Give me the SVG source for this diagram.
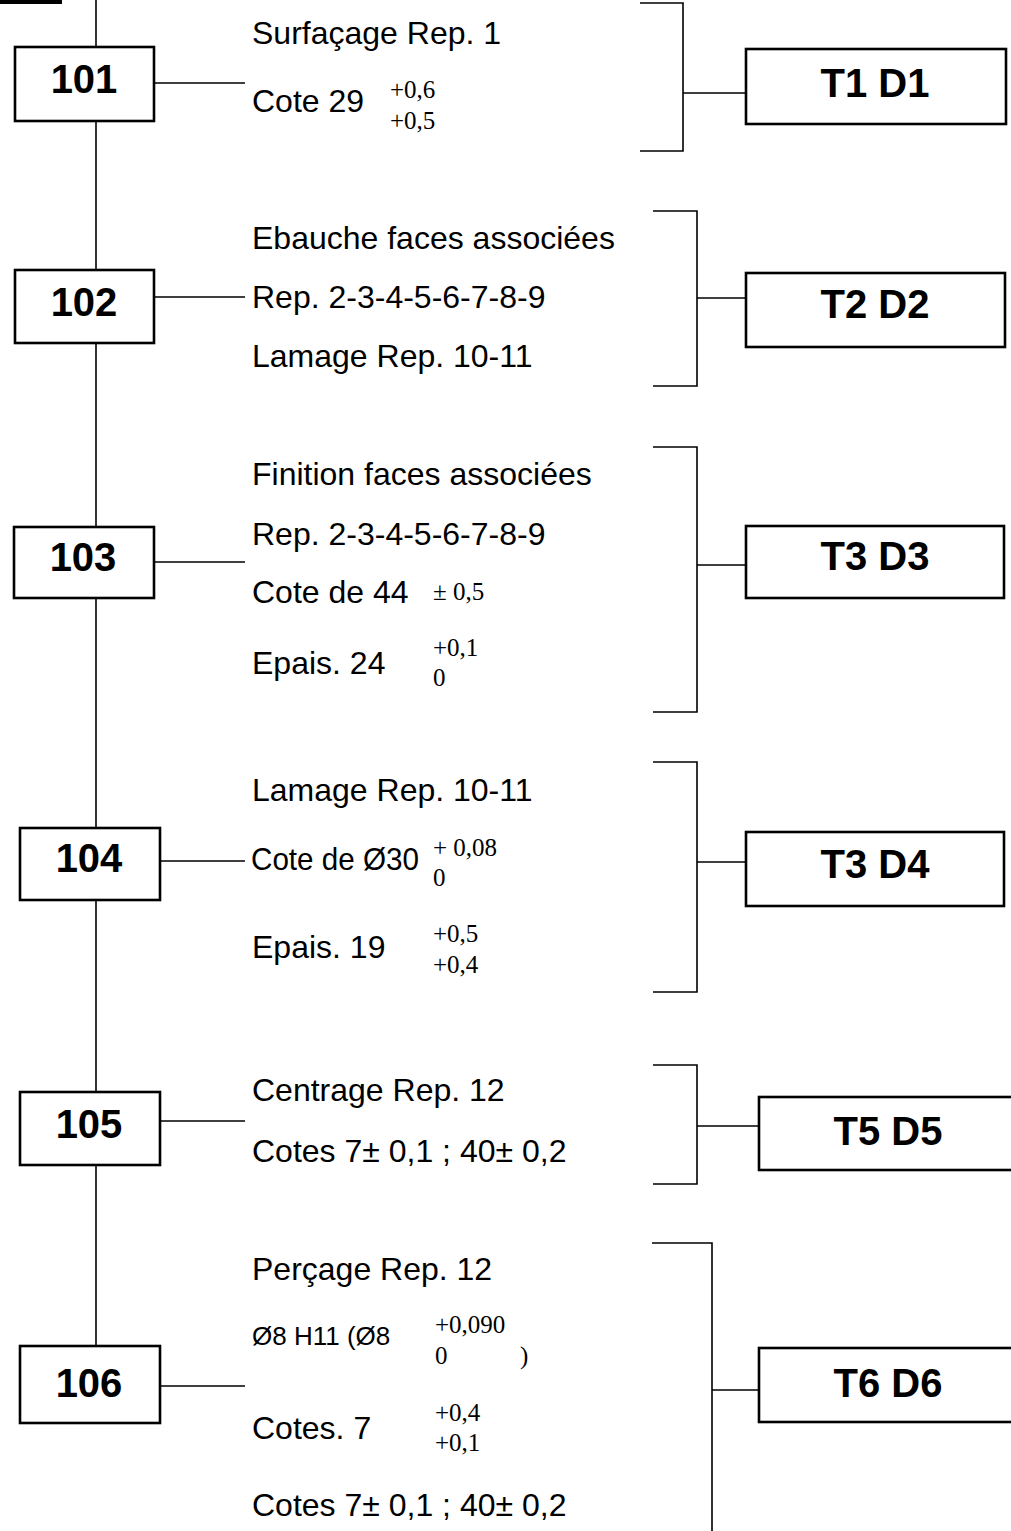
<svg xmlns="http://www.w3.org/2000/svg" width="1011" height="1531" viewBox="0 0 1011 1531">
<style>
.box{fill:#fff;stroke:#000;stroke-width:2.6}
.ln{fill:none;stroke:#000;stroke-width:1.6}
.lbl{font-family:"Liberation Sans",Arial,sans-serif;font-weight:bold;font-size:40px;text-anchor:middle;fill:#000}
.t{font-family:"Liberation Sans",Arial,sans-serif;font-size:32px;fill:#000}
.s{font-family:"Liberation Sans",Arial,sans-serif;font-size:26px;fill:#000}
.tol{font-family:"Liberation Serif","Times New Roman",serif;font-size:25px;fill:#000}
</style>
<rect x="0" y="0" width="62" height="4" fill="#000"/>
<g id="connectors">
<path class="ln" d="M96 0 V1346"/>
<path class="ln" d="M154 83 H245 M154 297 H245 M154 562 H245 M160 861 H245 M160 1121 H245 M160 1386 H245"/>
<path class="ln" d="M640 3 H683 V151 H640 M683 93 H746"/>
<path class="ln" d="M653 211 H697 V386 H653 M697 298 H746"/>
<path class="ln" d="M653 447 H697 V712 H653 M697 565 H746"/>
<path class="ln" d="M653 762 H697 V992 H653 M697 862 H746"/>
<path class="ln" d="M653 1065 H697 V1184 H653 M697 1126 H759"/>
<path class="ln" d="M652 1243 H712 V1531 M712 1390 H759"/>
</g>
<g id="n101"><rect class="box" x="15" y="47" width="139" height="74"/><text class="lbl" x="84" y="93">101</text></g>
<g id="n102"><rect class="box" x="15" y="270" width="139" height="73"/><text class="lbl" x="84" y="316">102</text></g>
<g id="n103"><rect class="box" x="14" y="527" width="140" height="71"/><text class="lbl" x="83" y="571">103</text></g>
<g id="n104"><rect class="box" x="20" y="828" width="140" height="72"/><text class="lbl" x="89" y="872">104</text></g>
<g id="n105"><rect class="box" x="20" y="1092" width="140" height="73"/><text class="lbl" x="89" y="1138">105</text></g>
<g id="n106"><rect class="box" x="20" y="1346" width="140" height="77"/><text class="lbl" x="89" y="1397">106</text></g>
<g id="t1"><rect class="box" x="746" y="49" width="260" height="75"/><text class="lbl" x="875" y="97">T1 D1</text></g>
<g id="t2"><rect class="box" x="746" y="273" width="259" height="74"/><text class="lbl" x="875" y="318">T2 D2</text></g>
<g id="t3"><rect class="box" x="746" y="526" width="258" height="72"/><text class="lbl" x="875" y="570">T3 D3</text></g>
<g id="t4"><rect class="box" x="746" y="832" width="258" height="74"/><text class="lbl" x="875" y="878">T3 D4</text></g>
<g id="t5"><rect class="box" x="759" y="1097" width="262" height="73"/><text class="lbl" x="888" y="1145">T5 D5</text></g>
<g id="t6"><rect class="box" x="759" y="1348" width="262" height="74"/><text class="lbl" x="888" y="1397">T6 D6</text></g>
<g id="txt101">
<text class="t" x="252" y="44">Surfaçage Rep. 1</text>
<text class="t" x="252" y="112">Cote 29</text>
<text class="tol" x="390" y="98">+0,6</text>
<text class="tol" x="390" y="129">+0,5</text>
</g>
<g id="txt102">
<text class="t" x="252" y="249">Ebauche faces associées</text>
<text class="t" x="252" y="308">Rep. 2-3-4-5-6-7-8-9</text>
<text class="t" x="252" y="367">Lamage Rep. 10-11</text>
</g>
<g id="txt103">
<text class="t" x="252" y="485">Finition faces associées</text>
<text class="t" x="252" y="545">Rep. 2-3-4-5-6-7-8-9</text>
<text class="t" x="252" y="603">Cote de 44</text>
<text class="tol" x="433" y="600">± 0,5</text>
<text class="t" x="252" y="674">Epais. 24</text>
<text class="tol" x="433" y="656">+0,1</text>
<text class="tol" x="433" y="686">0</text>
</g>
<g id="txt104">
<text class="t" x="252" y="801">Lamage Rep. 10-11</text>
<text class="t" x="251" y="870" textLength="168" lengthAdjust="spacingAndGlyphs">Cote de Ø30</text>
<text class="tol" x="433" y="856">+ 0,08</text>
<text class="tol" x="433" y="886">0</text>
<text class="t" x="252" y="958">Epais. 19</text>
<text class="tol" x="433" y="942">+0,5</text>
<text class="tol" x="433" y="973">+0,4</text>
</g>
<g id="txt105">
<text class="t" x="252" y="1101">Centrage Rep. 12</text>
<text class="t" x="252" y="1162">Cotes 7± 0,1 ; 40± 0,2</text>
</g>
<g id="txt106">
<text class="t" x="252" y="1280">Perçage Rep. 12</text>
<text class="s" x="252" y="1345">Ø8 H11 (Ø8</text>
<text class="tol" x="435" y="1333">+0,090</text>
<text class="tol" x="435" y="1364">0</text>
<text class="tol" x="520" y="1364">)</text>
<text class="t" x="252" y="1439">Cotes. 7</text>
<text class="tol" x="435" y="1421">+0,4</text>
<text class="tol" x="435" y="1451">+0,1</text>
<text class="t" x="252" y="1516">Cotes 7± 0,1 ; 40± 0,2</text>
</g>
</svg>
